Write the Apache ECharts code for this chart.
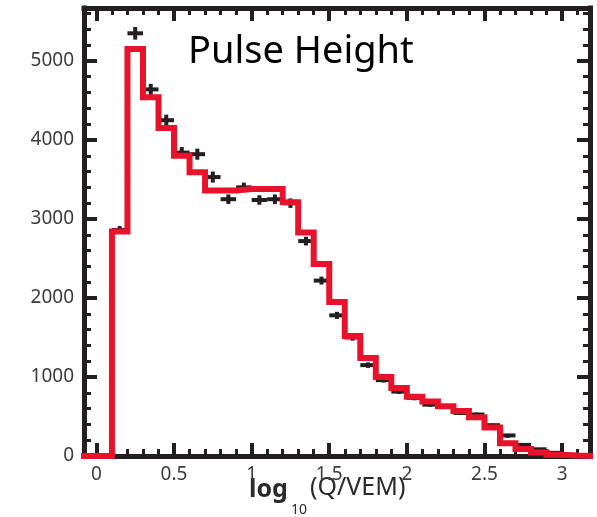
<!DOCTYPE html>
<html>
<head>
<meta charset="utf-8">
<script src="https://cdn.jsdelivr.net/npm/echarts@6/dist/echarts.min.js"></script>
<style>
  html, body { margin: 0; padding: 0; background: #ffffff; }
  #chart { width: 597px; height: 517px; }
</style>
</head>
<body>
<div id="chart"></div>
<script>
// Histogram bins: left edges in log10(Q/VEM), each 0.1 wide
const binWidth = 0.1;
const binEdges = [-0.1, 0.0, 0.1, 0.2, 0.3, 0.4, 0.5, 0.6, 0.7, 0.8, 0.9, 1.0, 1.1, 1.2, 1.3, 1.4,
  1.5, 1.6, 1.7, 1.8, 1.9, 2.0, 2.1, 2.2, 2.3, 2.4, 2.5, 2.6, 2.7, 2.8, 2.9, 3.0, 3.1];
// Simulated pulse-height histogram (red steps)
const simCounts = [0, 0, 2840, 5150, 4540, 4150, 3800, 3590, 3360, 3360, 3380, 3380, 3380, 3210, 2830, 2430,
  1950, 1520, 1240, 1000, 860, 750, 690, 630, 570, 490, 360, 160, 90, 45, 15, 5, 0];

// Measured points (black crosses): bin centres, counts, vertical error
const dataCenters = [0.15, 0.25, 0.35, 0.45, 0.55, 0.65, 0.75, 0.85, 0.95, 1.05, 1.15, 1.25, 1.35, 1.45,
  1.55, 1.65, 1.75, 1.85, 1.95, 2.05, 2.15, 2.25, 2.35, 2.45, 2.55, 2.65, 2.75, 2.85, 2.95, 3.05];
const dataCounts = [2860, 5350, 4640, 4250, 3840, 3820, 3530, 3250, 3400, 3240, 3250, 3200, 2720, 2220,
  1780, 1500, 1150, 960, 815, 735, 650, 630, 545, 525, 390, 260, 140, 85, 40, 15];
const dataErrors = [50, 80, 70, 70, 70, 70, 70, 60, 60, 60, 60, 60, 55, 50,
  45, 40, 35, 30, 30, 30, 25, 25, 25, 25, 20, 20, 15, 10, 10, 10];

// Axis ticks and labels
const xMajorTicks = [0, 0.5, 1, 1.5, 2, 2.5, 3];
const xMinorTicks = [0.1, 0.2, 0.3, 0.4, 0.6, 0.7, 0.8, 0.9, 1.1, 1.2, 1.3, 1.4, 1.6, 1.7, 1.8, 1.9,
  2.1, 2.2, 2.3, 2.4, 2.6, 2.7, 2.8, 2.9, 3.1];
const yMajorTicks = [0, 1000, 2000, 3000, 4000, 5000];
const yMinorTicks = [200, 400, 600, 800, 1200, 1400, 1600, 1800, 2200, 2400, 2600, 2800, 3200, 3400,
  3600, 3800, 4200, 4400, 4600, 4800, 5200, 5400, 5600];

const titleText = 'Pulse Height';
const xTitle = ['log', '10', '(Q/VEM)'];

const X_MIN = -0.08, X_MAX = 3.18, Y_MIN = 0, Y_MAX = 5670;
const INK = '#231f20';
const RED = '#e8132b';
const LABEL = '#3c3c3c';
const FONT = '"Noto Sans", "DejaVu Sans", sans-serif';

const stepPoints = binEdges.map((e, i) => [e, simCounts[i]]);
stepPoints.push([binEdges[binEdges.length - 1] + binWidth, simCounts[simCounts.length - 1]]);

const markerData = dataCenters.map((c, i) => [c, dataCounts[i], dataErrors[i]]);

function xAxisDef(position, ticks, len, width, withLine, withLabel) {
  return {
    type: 'value', gridIndex: 0, position: position, min: X_MIN, max: X_MAX,
    axisLine: { show: withLine, onZero: false, lineStyle: { color: INK, width: 5, cap: 'square' } },
    axisTick: { show: true, inside: true, length: len, customValues: ticks,
      lineStyle: { color: INK, width: width } },
    axisLabel: { show: withLabel, customValues: ticks, margin: 9, color: LABEL,
      fontFamily: FONT, fontSize: 19, formatter: v => String(v) },
    splitLine: { show: false }
  };
}
function yAxisDef(position, ticks, len, width, withLine, withLabel) {
  return {
    type: 'value', gridIndex: 0, position: position, min: Y_MIN, max: Y_MAX,
    axisLine: { show: withLine, onZero: false, lineStyle: { color: INK, width: 5, cap: 'square' } },
    axisTick: { show: true, inside: true, length: len, customValues: ticks,
      lineStyle: { color: INK, width: width } },
    axisLabel: { show: withLabel, customValues: ticks, margin: 10, color: LABEL,
      fontFamily: FONT, fontSize: 19, formatter: v => String(v) },
    splitLine: { show: false }
  };
}

const chart = echarts.init(document.getElementById('chart'), null, { renderer: 'canvas' });

chart.setOption({
  animation: false,
  backgroundColor: '#ffffff',
  grid: { left: 84, right: 7, top: 8, bottom: 61, containLabel: false },
  xAxis: [
    xAxisDef('bottom', xMajorTicks, 13, 4, true, true),
    xAxisDef('bottom', xMinorTicks, 7, 3, false, false),
    xAxisDef('top', xMajorTicks, 13, 4, true, false),
    xAxisDef('top', xMinorTicks, 7, 3, false, false)
  ],
  yAxis: [
    yAxisDef('left', yMajorTicks, 13, 4, true, true),
    yAxisDef('left', yMinorTicks, 7, 3, false, false),
    yAxisDef('right', yMajorTicks, 13, 4, true, false),
    yAxisDef('right', yMinorTicks, 7, 3, false, false)
  ],
  series: [
    {
      name: 'data',
      type: 'custom',
      xAxisIndex: 0, yAxisIndex: 0,
      z: 3,
      data: markerData,
      renderItem: function (params, api) {
        const x = api.value(0), y = api.value(1), e = api.value(2);
        const pL = api.coord([x - binWidth / 2, y]);
        const pR = api.coord([x + binWidth / 2, y]);
        const pT = api.coord([x, y + e]);
        const pB = api.coord([x, y - e]);
        const t = 4;
        return {
          type: 'group',
          children: [
            { type: 'rect', shape: { x: pL[0], y: pL[1] - t / 2, width: pR[0] - pL[0], height: t },
              style: { fill: INK } },
            { type: 'rect', shape: { x: pT[0] - t / 2, y: pT[1], width: t, height: Math.max(pB[1] - pT[1], t) },
              style: { fill: INK } }
          ]
        };
      }
    },
    {
      name: 'simulation',
      type: 'line',
      xAxisIndex: 0, yAxisIndex: 0,
      z: 4,
      step: 'end',
      showSymbol: false,
      symbol: 'none',
      data: stepPoints,
      lineStyle: { color: RED, width: 6, join: 'miter', cap: 'butt' }
    }
  ],
  graphic: [
    { type: 'text', left: 188, top: 33,
      style: { text: titleText, fill: '#000000', font: '38px ' + FONT } },
    { type: 'text', left: 249, top: 477,
      style: { text: xTitle[0], fill: '#2a2a2a', font: 'bold 25px ' + FONT } },
    { type: 'text', left: 291, top: 503,
      style: { text: xTitle[1], fill: '#2a2a2a', font: '14px ' + FONT } },
    { type: 'text', left: 310, top: 475,
      style: { text: xTitle[2], fill: '#2a2a2a', font: '25px ' + FONT } }
  ]
});
</script>
</body>
</html>
